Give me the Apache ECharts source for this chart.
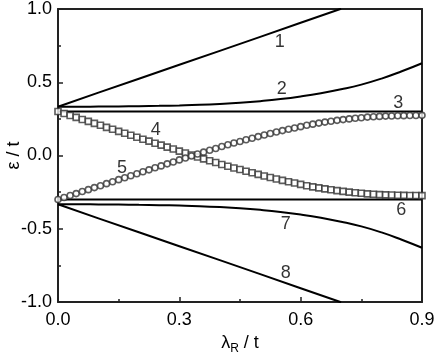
<!DOCTYPE html>
<html>
<head>
<meta charset="utf-8">
<style>
html, body { margin: 0; padding: 0; background: #fff; }
#chart { width: 436px; height: 355px; }
</style>
<script src="https://cdn.jsdelivr.net/npm/echarts@6/dist/echarts.min.js"></script>
</head>
<body>
<div id="chart"></div>
<script>
// lambda_R / t grids
var lamMark = [0,0.015,0.03,0.045,0.06,0.075,0.09,0.105,0.12,0.135,0.15,0.165,0.18,0.195,0.21,0.225,0.24,0.255,0.27,0.285,
  0.3,0.315,0.33,0.345,0.36,0.375,0.39,0.405,0.42,0.435,0.45,0.465,0.48,0.495,0.51,0.525,0.54,0.555,0.57,0.585,
  0.6,0.615,0.63,0.645,0.66,0.675,0.69,0.705,0.72,0.735,0.75,0.765,0.78,0.795,0.81,0.825,0.84,0.855,0.87,0.885,0.9];
var lamCurve = [0,0.05,0.1,0.15,0.2,0.25,0.3,0.35,0.4,0.45,0.5,0.55,0.6,0.65,0.7,0.75,0.8,0.85,0.9];
var lamLinear = [0,0.1,0.2,0.3,0.4,0.5,0.6,0.7];
var lamFlat = [0,0.9];

// levels (eps / t)
var level1 = [0.333,0.429,0.524,0.619,0.714,0.810,0.906,1.002];
var level2 = [0.333,0.333,0.334,0.335,0.337,0.339,0.342,0.346,0.352,0.360,0.371,0.385,0.403,0.425,0.452,0.484,0.525,0.575,0.630];
var level3 = [0.3,0.3];
var level4 = [0.300,0.287,0.273,0.260,0.246,0.233,0.219,0.206,0.192,0.179,
  0.165,0.152,0.138,0.125,0.111,0.098,0.084,0.071,0.057,0.044,
  0.030,0.017,0.003,-0.010,-0.023,-0.036,-0.048,-0.061,-0.073,-0.085,
  -0.096,-0.107,-0.118,-0.129,-0.140,-0.150,-0.160,-0.170,-0.179,-0.188,
  -0.197,-0.206,-0.214,-0.221,-0.228,-0.234,-0.240,-0.245,-0.250,-0.254,
  -0.258,-0.262,-0.265,-0.267,-0.269,-0.270,-0.271,-0.272,-0.273,-0.273,-0.274];
var level5 = [-0.300,-0.287,-0.273,-0.260,-0.246,-0.233,-0.219,-0.206,-0.192,-0.179,
  -0.165,-0.152,-0.138,-0.125,-0.111,-0.098,-0.084,-0.071,-0.057,-0.044,
  -0.030,-0.017,-0.003,0.010,0.023,0.036,0.048,0.061,0.073,0.085,
  0.096,0.107,0.118,0.129,0.140,0.150,0.160,0.170,0.179,0.188,
  0.197,0.206,0.214,0.221,0.228,0.234,0.240,0.245,0.250,0.254,
  0.258,0.262,0.265,0.267,0.269,0.270,0.271,0.272,0.273,0.273,0.274];
var level6 = [-0.3,-0.3];
var level7 = [-0.333,-0.333,-0.334,-0.335,-0.337,-0.339,-0.342,-0.346,-0.352,-0.360,-0.371,-0.385,-0.403,-0.425,-0.452,-0.484,-0.525,-0.575,-0.630];
var level8 = [-0.333,-0.429,-0.524,-0.619,-0.714,-0.810,-0.906,-1.002];

// curve numbers and where they sit (data coords)
var tagNames = ['1','2','3','4','5','6','7','8'];
var tagLam = [0.548,0.553,0.841,0.242,0.158,0.849,0.563,0.563];
var tagEps = [0.777,0.452,0.360,0.174,-0.088,-0.372,-0.470,-0.801];

function pairs(xs, ys) {
    var out = [];
    for (var i = 0; i < ys.length; i++) out.push([xs[i], ys[i]]);
    return out;
}

var FONT = 'Liberation Sans, Arial, Helvetica, sans-serif';

function lineSeries(xs, ys, smooth) {
    return {
        type: 'line',
        data: pairs(xs, ys),
        smooth: smooth,
        showSymbol: false,
        silent: true,
        lineStyle: { color: '#000', width: 2 },
        z: 2
    };
}

function markSeries(ys, symbol, size) {
    return {
        type: 'scatter',
        data: pairs(lamMark, ys),
        symbol: symbol,
        symbolSize: size,
        silent: true,
        itemStyle: { color: '#fff', borderColor: '#333', borderWidth: 1.6 },
        z: 3
    };
}

var tagData = [];
for (var i = 0; i < tagNames.length; i++) {
    tagData.push({ name: tagNames[i], value: [tagLam[i], tagEps[i]] });
}

var chart = echarts.init(document.getElementById('chart'));
var option = {
    animation: false,
    backgroundColor: '#fff',
    grid: { left: 58, right: 14, top: 9, bottom: 53, outerBoundsMode: 'none', containLabel: false },
    xAxis: [{
        type: 'value',
        min: 0, max: 0.9, interval: 0.3,
        name: '{a|λ}{b|R}{a| / t}',
        nameLocation: 'middle',
        nameGap: 29,
        nameMoveOverlap: false,
        nameTextStyle: {
            rich: {
                a: { fontFamily: FONT, fontSize: 18, color: '#000' },
                b: { fontFamily: FONT, fontSize: 12, color: '#000', padding: [12, 0, 0, 0] }
            }
        },
        axisLine: { onZero: false, lineStyle: { color: '#222', width: 2 } },
        axisTick: { inside: true, length: 5, lineStyle: { color: '#222', width: 1.5 } },
        minorTick: { show: true, splitNumber: 2, length: 3, lineStyle: { color: '#222', width: 1.5 } },
        axisLabel: { fontFamily: FONT, fontSize: 18, color: '#000', margin: 9,
            formatter: function (v) { return v.toFixed(1); } },
        splitLine: { show: false }
    }, {
        type: 'value', position: 'top', min: 0, max: 0.9,
        axisLine: { show: true, onZero: false, lineStyle: { color: '#222', width: 2 } },
        axisTick: { show: false }, axisLabel: { show: false }, splitLine: { show: false }
    }],
    yAxis: [{
        type: 'value',
        min: -1, max: 1, interval: 0.5,
        name: 'ε / t',
        nameLocation: 'middle',
        nameGap: 35,
        nameMoveOverlap: false,
        nameTextStyle: { fontFamily: FONT, fontSize: 18, color: '#000' },
        axisLine: { show: true, onZero: false, lineStyle: { color: '#222', width: 2 } },
        axisTick: { show: true, inside: true, length: 5, lineStyle: { color: '#222', width: 1.5 } },
        minorTick: { show: true, splitNumber: 2, length: 3, lineStyle: { color: '#222', width: 1.5 } },
        axisLabel: { fontFamily: FONT, fontSize: 18, color: '#000', margin: 6,
            formatter: function (v) { return v.toFixed(1); } },
        splitLine: { show: false }
    }, {
        type: 'value', position: 'right', min: -1, max: 1,
        axisLine: { show: true, onZero: false, lineStyle: { color: '#222', width: 2 } },
        axisTick: { show: false }, axisLabel: { show: false }, splitLine: { show: false }
    }],
    series: [
        lineSeries(lamLinear, level1, false),
        lineSeries(lamCurve, level2, true),
        lineSeries(lamFlat, level3, false),
        lineSeries(lamFlat, level6, false),
        lineSeries(lamCurve, level7, true),
        lineSeries(lamLinear, level8, false),
        markSeries(level4, 'rect', 6),
        markSeries(level5, 'circle', 6),
        {
            type: 'scatter',
            data: tagData,
            symbolSize: 0,
            silent: true,
            z: 4,
            label: {
                show: true,
                position: 'inside',
                formatter: '{b}',
                fontFamily: FONT,
                fontSize: 18,
                color: '#000'
            }
        }
    ]
};
chart.setOption(option);
</script>
</body>
</html>
